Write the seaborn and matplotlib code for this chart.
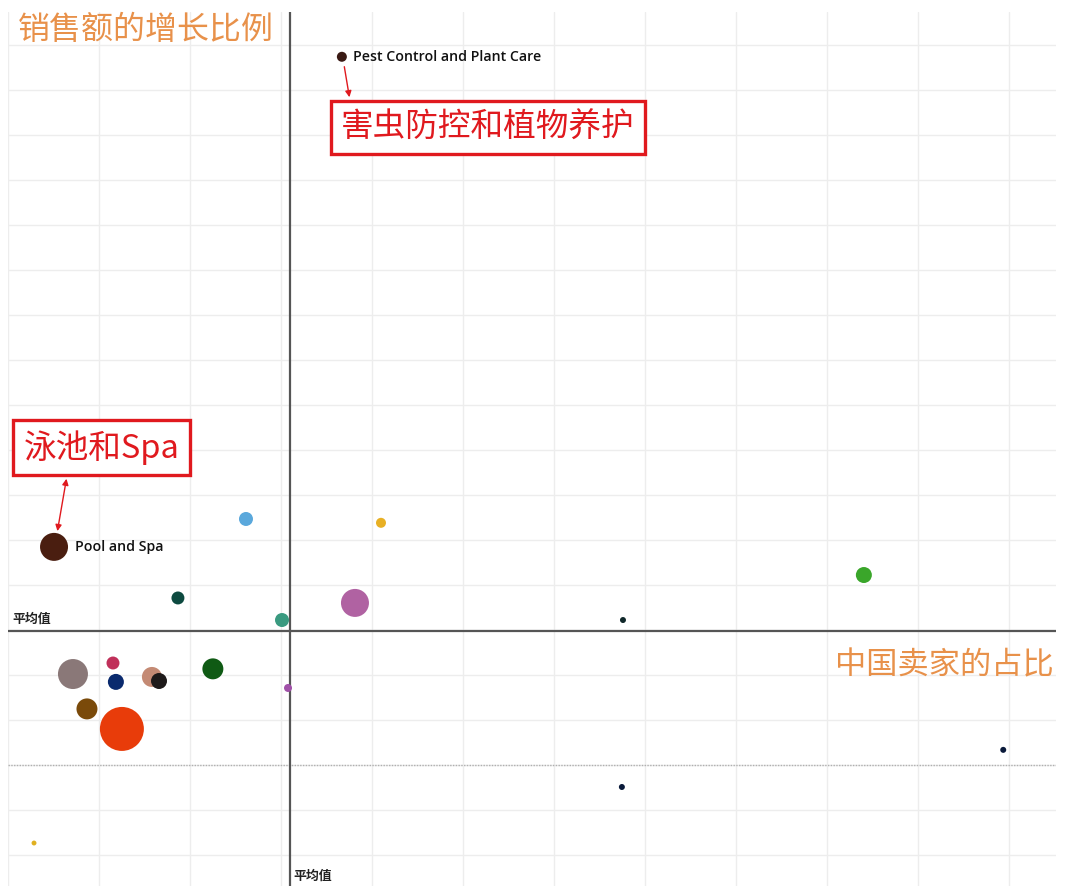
import pandas as pd
import matplotlib
matplotlib.use("Agg")
import matplotlib.pyplot as plt
import seaborn as sns
import numpy as np

sns.set_style("white")
plt.rcParams['font.family'] = ['Noto Sans CJK SC', 'DejaVu Sans']

# share of chinese sellers (%), sales growth (%), relative sales (bubble area)
seller_share = [18.35, 2.53, 13.08, 20.5, 47.04, 9.34, 15.06, 19.07, 33.8, 3.57, 5.77,
                5.93, 7.91, 8.30, 11.26, 15.39, 4.34, 6.26, 54.7, 33.74, 1.43]
sales_growth = [314.7, 96.9, 109.3, 107.6, 84.4, 74.2, 64.4, 72.0, 64.4, 40.4, 45.3,
                36.9, 39.1, 37.3, 42.7, 34.2, 24.9, 16.0, 6.7, -9.8, -34.7]
sales = [25, 196, 49, 25, 64, 42, 49, 196, 9, 225, 42,
         64, 100, 64, 110, 16, 110, 484, 9, 9, 6]
colors = ['#3a1a14', '#4a1e10', '#5aa8dc', '#e8b024', '#3aa62a', '#0d4a40', '#3a9a80',
          '#b062a2', '#10282a', '#8a7878', '#c0305a', '#0a2a6e', '#c48a74', '#1e1a1a',
          '#0f5a14', '#a050a8', '#7a4a0a', '#e83c0a', '#0a1a3a', '#0a1a3a', '#e0b020']
labels = {0: 'Pest Control and Plant Care', 1: 'Pool and Spa'}

avg_share = 15.5
avg_growth = 59.6

df = pd.DataFrame({'share': seller_share, 'growth': sales_growth, 'sales': sales,
                   'id': range(len(sales))})

fig = plt.figure(figsize=(10.8, 8.86), dpi=100)
ax = fig.add_axes([8/1080, 0, 1048/1080, 874/886])

ax.set_xlim(0, 57.6)
ax.set_ylim(-53.8, 334.6)
ax.set_xticks(np.arange(0, 57.6, 5))
ax.set_yticks(np.arange(-40, 334, 20))
ax.grid(True, color='#ededed', lw=1)
ax.tick_params(length=0, labelbottom=False, labelleft=False)
for s in ax.spines.values():
    s.set_visible(False)

# zero line dotted, average lines
ax.axhline(0, color='#b0b0b0', lw=1, ls=(0, (1, 1)), zorder=1)
ax.axhline(avg_growth, color='#555555', lw=1.6, zorder=1)
ax.axvline(avg_share, color='#555555', lw=1.6, zorder=1)

sns.scatterplot(data=df, x='share', y='growth', hue='id', palette=colors,
                size='sales', sizes=(0, 1003), size_norm=(0, 484),
                linewidth=0, legend=False, alpha=1, ax=ax, zorder=3)
ax.set_xlabel('')
ax.set_ylabel('')

# labels sit just right of the bubble
for i, txt in labels.items():
    offset = 0.3 + np.sqrt(sales[i]) * 0.06
    ax.text(seller_share[i] + offset, sales_growth[i], txt, fontsize=10.2, va='center',
            ha='left', color='#111111', fontweight='semibold',
            family=['Open Sans', 'DejaVu Sans'], zorder=4)

orange = '#e8914a'
ax.text(0.55, 326.7, '销售额的增长比例', fontsize=23, color=orange, va='center', ha='left')
ax.text(57.5, 44.4, '中国卖家的占比', fontsize=22.5, color=orange, va='center', ha='right')
ax.text(0.22, 64.8, '平均值', fontsize=9.3, fontweight='bold', color='#222222', va='center', ha='left')
ax.text(15.7, -49.2, '平均值', fontsize=9.3, fontweight='bold', color='#222222', va='center', ha='left')

red = '#e0191e'
box = dict(boxstyle='square,pad=0.32', fc='white', ec=red, lw=2.4)
ax.text(26.38, 283.3, '害虫防控和植物养护', fontsize=23.5, color=red, ha='center', va='center', bbox=box, zorder=5)
ax.text(5.14, 141.1, '泳池和Spa', fontsize=23.5, color=red, ha='center', va='center', bbox=box, zorder=5)

ax.annotate('', xy=(18.79, 295.5), xytext=(18.46, 311.5),
            arrowprops=dict(arrowstyle='-|>', color=red, lw=1, mutation_scale=9), zorder=5)
ax.annotate('', xy=(2.69, 102.7), xytext=(3.24, 128.4),
            arrowprops=dict(arrowstyle='<|-|>', color=red, lw=1, mutation_scale=9), zorder=5)

plt.savefig('out.png', dpi=100)
